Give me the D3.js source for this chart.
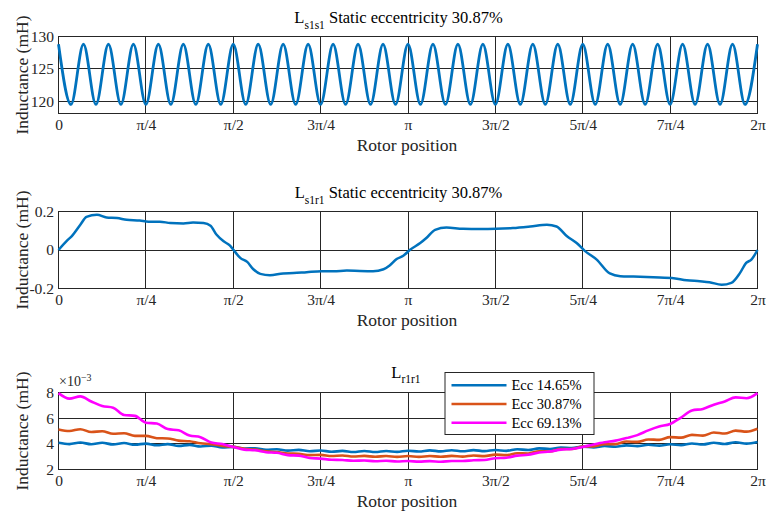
<!DOCTYPE html>
<html lang="en">
<head>
<meta charset="UTF-8">
<title>Rotor position inductances</title>
<script src="https://d3js.org/d3.v7.min.js"></script>
<style>
    body { margin: 0; background: #fff; }
    svg { display: block; }
    svg text, .axis { font-family: "Liberation Serif", "DejaVu Serif", "Times New Roman", serif; }
    .axis text { font-size: 15.5px; fill: #262626; }
    .axis path, .axis line { display: none; }
    .grid line { stroke: #262626; stroke-width: 1; shape-rendering: crispEdges; }
    .frame { fill: none; stroke: #262626; stroke-width: 1; shape-rendering: crispEdges; }
    .label { font-size: 17.5px; fill: #262626; }
    .title { font-size: 16.5px; fill: #000; }
</style>
</head>
<body>
<svg width="766" height="514"></svg>
<script>
// x tick labels as printed on the figure (one per quarter step of the turn)
var tickLabels = ["0", "π/4", "π/2", "3π/4", "π", "3π/2", "5π/4", "7π/4", "2π"];

// Ls1s1 (mH), peaks and troughs, evenly spaced over the turn
var ls1s1 = [128.8, 119.5, 128.8, 119.5, 128.8, 119.5, 128.8, 119.5, 128.8, 119.5,
             128.8, 119.5, 128.8, 119.5, 128.8, 119.5, 128.8, 119.5, 128.8, 119.5,
             128.8, 119.5, 128.8, 119.5, 128.8, 119.5, 128.8, 119.5, 128.8, 119.5,
             128.8, 119.5, 128.8, 119.5, 128.8, 119.5, 128.8, 119.5, 128.8, 119.5,
             128.8, 119.5, 128.8, 119.5, 128.8, 119.5, 128.8, 119.5, 128.8, 119.5,
             128.8, 119.5, 128.8, 119.5, 128.8, 119.5, 128.8];

// Ls1r1 (mH): [position in quarter steps, value]
var ls1r1 = [[0, 0], [0.1, 0.05], [0.15, 0.071], [0.25, 0.131], [0.32, 0.172], [0.44, 0.183],
             [0.55, 0.169], [0.67, 0.166], [0.78, 0.157], [0.93, 0.153], [1.03, 0.147], [1.16, 0.147],
             [1.28, 0.14], [1.43, 0.138], [1.54, 0.143], [1.66, 0.14], [1.74, 0.126], [1.81, 0.079],
             [1.89, 0.045], [1.96, 0.024], [2.02, -0.01], [2.08, -0.041], [2.16, -0.062], [2.23, -0.1],
             [2.31, -0.124], [2.42, -0.131], [2.57, -0.122], [2.69, -0.12], [2.84, -0.115], [3.01, -0.11],
             [3.15, -0.11], [3.3, -0.107], [3.45, -0.109], [3.6, -0.11], [3.72, -0.1], [3.79, -0.08],
             [3.87, -0.047], [3.95, -0.029], [4.02, 0], [4.14, 0.036], [4.21, 0.062], [4.31, 0.105],
             [4.44, 0.117], [4.63, 0.11], [4.82, 0.109], [5.01, 0.11], [5.2, 0.114], [5.4, 0.122],
             [5.59, 0.131], [5.7, 0.122], [5.82, 0.071], [5.93, 0.036], [6.02, -0.003], [6.16, -0.05],
             [6.31, -0.122], [6.43, -0.136], [6.58, -0.138], [6.73, -0.14], [6.88, -0.143], [7.02, -0.145],
             [7.19, -0.157], [7.34, -0.162], [7.45, -0.167], [7.59, -0.181], [7.7, -0.171], [7.8, -0.119],
             [7.87, -0.067], [7.93, -0.05], [8, 0]];

// Lr1r1 (x10^-3 mH), 65 evenly spaced samples each
var eccNames = ["Ecc 14.65%", "Ecc 30.87%", "Ecc 69.13%"];
var ecc1465 = [4.08, 3.98, 4.10, 3.97, 4.08, 3.95, 4.06, 3.93, 4.02, 3.89,
               3.98, 3.84, 3.92, 3.79, 3.86, 3.72, 3.76, 3.64, 3.66, 3.53,
               3.58, 3.47, 3.53, 3.42, 3.48, 3.38, 3.45, 3.36, 3.44, 3.36,
               3.44, 3.37, 3.46, 3.40, 3.49, 3.41, 3.50, 3.42, 3.51, 3.43,
               3.52, 3.45, 3.58, 3.52, 3.65, 3.60, 3.72, 3.68, 3.78, 3.72,
               3.83, 3.77, 3.88, 3.82, 3.93, 3.86, 3.97, 3.90, 4.03, 3.95,
               4.08, 3.99, 4.12, 4.02, 4.15];
var ecc3087 = [5.12, 5.00, 5.14, 4.92, 4.98, 4.78, 4.83, 4.62, 4.62, 4.44,
               4.42, 4.25, 4.20, 4.04, 3.98, 3.84, 3.76, 3.62, 3.55, 3.42,
               3.36, 3.25, 3.22, 3.12, 3.14, 3.05, 3.09, 3.01, 3.06, 2.99,
               3.05, 2.98, 3.05, 2.98, 3.05, 2.99, 3.06, 3.00, 3.09, 3.04,
               3.16, 3.12, 3.27, 3.25, 3.42, 3.40, 3.60, 3.60, 3.78, 3.80,
               3.98, 3.98, 4.18, 4.15, 4.34, 4.31, 4.52, 4.48, 4.70, 4.64,
               4.88, 4.80, 5.03, 4.95, 5.18];
var ecc6913 = [7.95, 7.52, 7.70, 7.30, 6.95, 6.82, 6.25, 6.18, 5.65, 5.58,
               5.15, 5.05, 4.65, 4.52, 4.10, 3.98, 3.75, 3.55, 3.50, 3.35,
               3.30, 3.12, 3.08, 2.90, 2.85, 2.76, 2.74, 2.68, 2.70, 2.64,
               2.68, 2.62, 2.66, 2.61, 2.65, 2.60, 2.66, 2.66, 2.72, 2.74,
               2.88, 2.92, 3.08, 3.15, 3.32, 3.40, 3.55, 3.60, 3.76, 3.95,
               4.12, 4.25, 4.45, 4.68, 5.05, 5.35, 5.55, 6.05, 6.60, 6.72,
               7.05, 7.30, 7.62, 7.55, 7.95];
var eccColors = ["#0072BD", "#D95319", "#FF00FF"];

var svg = d3.select("svg");
var left = 58.5, w = 699, h = 77;

function evenly(vals) {
    return vals.map(function(v, i) { return [i * 8 / (vals.length - 1), v]; });
}

function panel(top, yDomain, yTicks, yFmt) {
    var g = svg.append("g").attr("transform", "translate(" + left + "," + top + ")");
    var x = d3.scaleLinear().domain([0, 8]).range([0, w]);
    var y = d3.scaleLinear().domain(yDomain).range([h, 0]);

    // grid
    g.append("g").attr("class", "grid")
        .selectAll("line").data(d3.range(1, 8)).enter().append("line")
        .attr("x1", function(d) { return x(d); }).attr("x2", function(d) { return x(d); })
        .attr("y1", 0).attr("y2", h);
    g.append("g").attr("class", "grid")
        .selectAll("line").data(yTicks.filter(function(t) { return t > yDomain[0] && t < yDomain[1]; }))
        .enter().append("line")
        .attr("x1", 0).attr("x2", w)
        .attr("y1", function(d) { return y(d); }).attr("y2", function(d) { return y(d); });
    g.append("rect").attr("class", "frame").attr("width", w).attr("height", h);

    // axes
    g.append("g").attr("class", "axis").attr("transform", "translate(0," + h + ")")
        .call(d3.axisBottom(x).tickValues(d3.range(9)).tickSize(0).tickPadding(5)
            .tickFormat(function(d) { return tickLabels[d]; }));
    g.append("g").attr("class", "axis")
        .call(d3.axisLeft(y).tickValues(yTicks).tickSize(0).tickPadding(4.5).tickFormat(yFmt));

    g.append("text").attr("class", "label")
        .attr("x", w / 2 - 1).attr("y", h + 37)
        .attr("text-anchor", "middle").text("Rotor position");
    g.append("text").attr("class", "label")
        .attr("transform", "translate(" + (27.5 - left) + "," + (h / 2) + ") rotate(-90)")
        .attr("text-anchor", "middle").text("Inductance (mH)");
    return {g: g, x: x, y: y};
}

function title(g, cx, ty, sub, rest) {
    var t = g.append("text").attr("class", "title")
        .attr("x", cx).attr("y", ty).attr("text-anchor", "middle");
    t.append("tspan").text("L");
    t.append("tspan").attr("dy", 5.5).attr("font-size", "11.5px").text(sub);
    t.append("tspan").attr("dy", -5.5).text(rest);
}

function drawLine(p, pts, color, width) {
    var line = d3.line()
        .x(function(d) { return p.x(d[0]); })
        .y(function(d) { return p.y(d[1]); })
        .curve(d3.curveMonotoneX);
    p.g.append("path").datum(pts)
        .attr("fill", "none").attr("stroke", color)
        .attr("stroke-width", width).attr("stroke-linejoin", "round")
        .attr("d", line);
}

// Ls1s1
var p1 = panel(36.5, [118.1, 130], [120, 125, 130], d3.format("d"));
title(p1.g, 340, -13.2, "s1s1", " Static eccentricity 30.87%");
drawLine(p1, evenly(ls1s1), "#0072BD", 2.8);

// Ls1r1
var p2 = panel(211.5, [-0.2, 0.2], [-0.2, 0, 0.2], function(d) { return d === 0 ? "0" : (d < 0 ? "-" : "") + Math.abs(d).toFixed(1); });
title(p2.g, 340, -13.2, "s1r1", " Static eccentricity 30.87%");
drawLine(p2, ls1r1, "#0072BD", 2.5);

// Lr1r1
var p3 = panel(392.5, [2, 8], [2, 4, 6, 8], d3.format("d"));
title(p3.g, 347.5, -14.8, "r1r1", "");
var exp = p3.g.append("text").attr("x", 0.5).attr("y", -6.5).attr("font-size", "14px").attr("fill", "#262626");
exp.append("tspan").text("×10");
exp.append("tspan").attr("dy", -5).attr("font-size", "10px").text("−3");

[ecc1465, ecc3087, ecc6913].forEach(function(s, i) {
    drawLine(p3, evenly(s), eccColors[i], 2.6);
});

// legend
var lg = p3.g.append("g").attr("transform", "translate(386.5,-20)");
lg.append("rect").attr("width", 149).attr("height", 62)
    .attr("fill", "#fff").attr("stroke", "#262626").attr("stroke-width", 1);
eccNames.forEach(function(name, i) {
    var yy = 12.7 + i * 18.8;
    lg.append("line").attr("x1", 6.5).attr("x2", 61.5).attr("y1", yy).attr("y2", yy)
        .attr("stroke", eccColors[i]).attr("stroke-width", 2.6);
    lg.append("text").attr("x", 66.5).attr("y", yy + 5)
        .attr("font-size", "14.5px").attr("fill", "#000").text(name);
});
</script>
</body>
</html>
